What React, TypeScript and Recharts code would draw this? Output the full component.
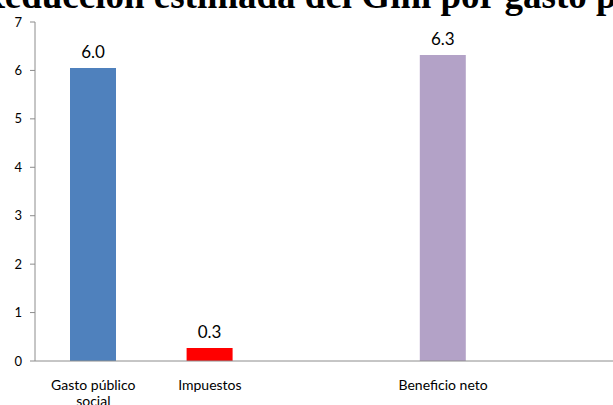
import React from 'react';
import { BarChart, Bar, XAxis, YAxis, Cell, LabelList, Text } from 'recharts';

const categories = ['Gasto público social', 'Impuestos', '', 'Beneficio neto', ''];
const values: (number | null)[] = [6.05, 0.27, null, 6.32, null];
const colors = ['#4F81BD', '#FF0000', '#FFFFFF', '#B3A2C7', '#FFFFFF'];
const yTicks = [0, 1, 2, 3, 4, 5, 6, 7];
const boundaryTicks = [0, 1, 2, 3, 4, 5];
const title = 'Reducción estimada del Gini por gasto público social';

const data = categories.map((c, i) => ({ name: c, value: values[i] }));

const FONT = 'Lato, "Liberation Sans", sans-serif';
const AXIS = '#8C8C8C';

const CatTick = (props: any) => {
  const { x, y, payload } = props;
  return (
    <Text
      x={x}
      y={y + 10}
      width={104}
      textAnchor="middle"
      verticalAnchor="start"
      lineHeight={16}
      fontSize={14}
      fontFamily={FONT}
      fill="#000"
    >
      {payload.value}
    </Text>
  );
};

export default function App() {
  return (
    <div style={{ position: 'absolute', left: 0, top: 0, width: 613, height: 405, overflow: 'hidden', background: '#fff' }}>
      <div
        style={{
          position: 'absolute',
          left: -22,
          top: -23,
          whiteSpace: 'nowrap',
          fontFamily: '"Liberation Serif", serif',
          fontWeight: 'bold',
          fontSize: 37,
          lineHeight: '38px',
          color: '#000',
        }}
      >
        {title}
      </div>
      <BarChart
        width={613}
        height={405}
        data={data}
        margin={{ top: 22, right: -5, left: 0, bottom: 0 }}
        barCategoryGap={0}
      >
        <XAxis
          xAxisId="b"
          type="number"
          domain={[0, 5]}
          ticks={boundaryTicks}
          height={1}
          axisLine={{ stroke: AXIS }}
          tickLine={{ stroke: AXIS }}
          tickSize={5}
          tick={false}
          allowDataOverflow
        />
        <XAxis
          xAxisId="cat"
          dataKey="name"
          height={43}
          axisLine={false}
          tickLine={false}
          tick={<CatTick />}
          interval={0}
        />
        <YAxis
          width={35}
          domain={[0, 7]}
          ticks={yTicks}
          interval={0}
          axisLine={{ stroke: AXIS }}
          tickLine={{ stroke: AXIS }}
          tickSize={5}
          tickMargin={8}
          tick={{ fontSize: 13, fontFamily: FONT, fill: '#000' }}
        />
        <Bar xAxisId="cat" dataKey="value" barSize={46} isAnimationActive={false}>
          {data.map((d, i) => (
            <Cell key={i} fill={colors[i]} />
          ))}
          <LabelList
            dataKey="value"
            position="top"
            offset={10}
            formatter={(v: any) => (v == null ? '' : Number(v).toFixed(1))}
            style={{ fontSize: 17, fontFamily: FONT, fill: '#000' }}
          />
        </Bar>
      </BarChart>
    </div>
  );
}
